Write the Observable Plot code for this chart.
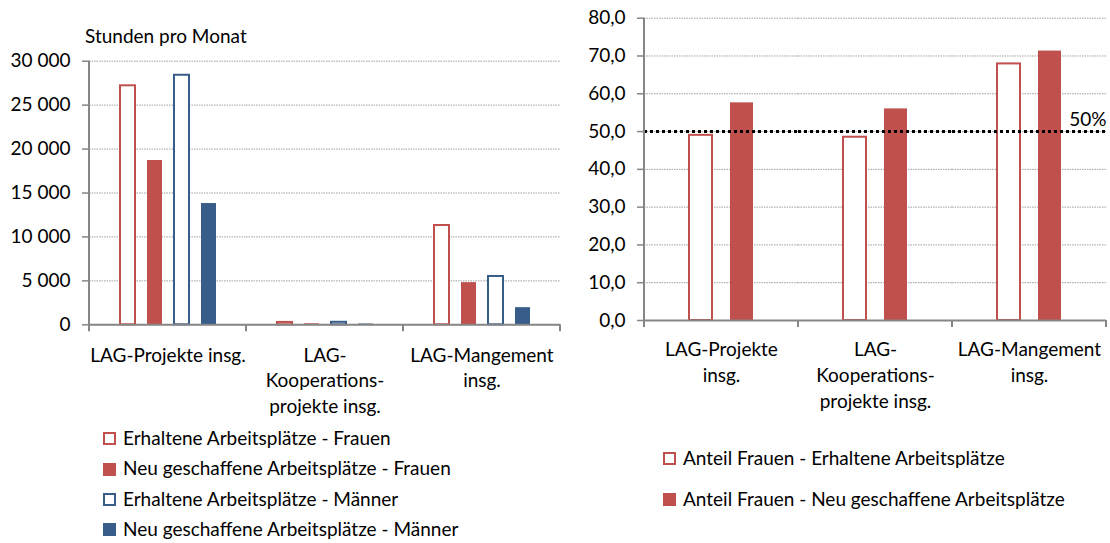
<!DOCTYPE html>
<html>
<head>
<meta charset="utf-8">
<script src="https://cdn.jsdelivr.net/npm/d3@7"></script>
<script src="https://cdn.jsdelivr.net/npm/@observablehq/plot@0.6"></script>
<style>
  html, body { margin: 0; padding: 0; background: #fff; }
  #page { position: relative; width: 1110px; height: 543px; overflow: hidden; font-family: Lato, sans-serif; color: #000; }
  #page svg { position: absolute; top: 0; max-width: none; background: transparent; }
  .title { position: absolute; font-size: 19px; line-height: 1; white-space: nowrap; }
  .swatch { position: absolute; width: 13px; height: 13px; box-sizing: border-box; }
  .ltext { position: absolute; font-size: 19px; line-height: 1; white-space: nowrap; }
</style>
</head>
<body>
<div id="page"></div>
<script>
// Categories and axis labels
const categories = ["LAG-Projekte insg.", "LAG-Kooperationsprojekte insg.", "LAG-Mangement insg."];
const hoursTickLabels = ["LAG-Projekte insg.", "LAG-\nKooperations-\nprojekte insg.", "LAG-Mangement\ninsg."];
const shareTickLabels = ["LAG-Projekte\ninsg.", "LAG-\nKooperations-\nprojekte insg.", "LAG-Mangement\ninsg."];

// Hours per month by job type and gender
const hoursSeries = [
  "Erhaltene Arbeitsplätze - Frauen",
  "Neu geschaffene Arbeitsplätze - Frauen",
  "Erhaltene Arbeitsplätze - Männer",
  "Neu geschaffene Arbeitsplätze - Männer"
];
const erhalteneFrauen = [27200, 270, 11300];
const neueFrauen = [18700, 115, 4800];
const erhalteneMaenner = [28400, 285, 5500];
const neueMaenner = [13800, 90, 1950];
const hoursTicks = [0, 5000, 10000, 15000, 20000, 25000, 30000];

// Share of women (%)
const shareSeries = [
  "Anteil Frauen - Erhaltene Arbeitsplätze",
  "Anteil Frauen - Neu geschaffene Arbeitsplätze"
];
const anteilErhalten = [49.0, 48.5, 67.9];
const anteilNeu = [57.6, 56.0, 71.3];
const shareTicks = [0, 10, 20, 30, 40, 50, 60, 70, 80];
const parityLine = [50];
const parityLabel = "50%";

// Styling
const RED = "#C0504D", BLUE = "#385D8A";
const hoursStyle = [
  {color: RED, hollow: true},
  {color: RED, hollow: false},
  {color: BLUE, hollow: true},
  {color: BLUE, hollow: false}
];
const shareStyle = [
  {color: RED, hollow: true},
  {color: RED, hollow: false}
];
const AXIS = "#868686", GRID = "#a0a0a0", FONT = 19;

const hoursValues = [erhalteneFrauen, neueFrauen, erhalteneMaenner, neueMaenner];
const shareValues = [anteilErhalten, anteilNeu];

function rowsFor(series, values, style) {
  return categories.flatMap((cat, i) => series.map((s, j) => ({
    cat, series: s, value: values[j][i], color: style[j].color, hollow: style[j].hollow
  })));
}

const fmtThousands = d => d3.format(",")(d).replace(/,/g, " ");
const fmtDecimal = d => d3.format(".1f")(d).replace(".", ",");

function barMarks(rows) {
  return [
    Plot.barY(rows.filter(d => !d.hollow), {fx: "cat", x: "series", y: "value", fill: "color"}),
    Plot.barY(rows.filter(d => d.hollow), {fx: "cat", x: "series", y: "value", fill: "white", stroke: "color", strokeWidth: 2})
  ];
}

// Frame decorations: y-axis line and category separator ticks, placed with the plot's scales
function decorate(plot) {
  const fx = plot.scale("fx"), y = plot.scale("y");
  const y0 = y.apply(0), yTop = y.apply(y.domain[1]);
  const edges = fx.domain.map(d => fx.apply(d));
  edges.push(fx.apply(fx.domain[fx.domain.length - 1]) + fx.bandwidth);
  const g = d3.select(plot).append("g").attr("stroke", AXIS).attr("stroke-width", 2);
  g.append("line").attr("x1", edges[0]).attr("x2", edges[0]).attr("y1", yTop).attr("y2", y0);
  g.selectAll(".sep").data(edges).join("line")
    .attr("x1", d => d).attr("x2", d => d).attr("y1", y0).attr("y2", y0 + 7);
  return plot;
}

const page = document.getElementById("page");

// Left chart: hours per month
const hoursPlot = decorate(Plot.plot({
  width: 562, height: 420,
  marginTop: 60.7, marginBottom: 95.7, marginLeft: 89, marginRight: 2,
  style: {fontFamily: "Lato, sans-serif", fontSize: FONT + "px", color: "#000", background: "transparent"},
  fx: {domain: categories, padding: 0, label: null},
  x: {domain: hoursSeries, paddingInner: 0.45, paddingOuter: 1.1, axis: null},
  y: {domain: [0, 30000], label: null},
  color: {type: "identity"},
  marks: [
    Plot.gridY(hoursTicks, {stroke: GRID, strokeOpacity: 1, strokeDasharray: "1.5,1"}),
    ...barMarks(rowsFor(hoursSeries, hoursValues, hoursStyle)),
    Plot.ruleY([0], {stroke: AXIS, strokeWidth: 2}),
    Plot.axisY(hoursTicks, {tickFormat: fmtThousands, tickSize: 7, tickPadding: 12, stroke: AXIS, strokeWidth: 1.5, fontSize: FONT, label: null}),
    Plot.axisFx({anchor: "bottom", tickSize: 0, tickPadding: 18.5, lineHeight: 1.35, fontSize: FONT, label: null,
      tickFormat: d => hoursTickLabels[categories.indexOf(d)]})
  ]
}));
hoursPlot.style.left = "0px";
page.appendChild(hoursPlot);

// Right chart: share of women
const sharePlot = decorate(Plot.plot({
  width: 548, height: 420,
  marginTop: 17.7, marginBottom: 100, marginLeft: 82, marginRight: 4,
  style: {fontFamily: "Lato, sans-serif", fontSize: FONT + "px", color: "#000", background: "transparent"},
  fx: {domain: categories, padding: 0, label: null},
  x: {domain: shareSeries, paddingInner: 0.45, paddingOuter: 1.1, axis: null},
  y: {domain: [0, 80], label: null},
  color: {type: "identity"},
  marks: [
    Plot.gridY(shareTicks, {stroke: GRID, strokeOpacity: 1, strokeDasharray: "1.5,1"}),
    ...barMarks(rowsFor(shareSeries, shareValues, shareStyle)),
    Plot.ruleY([0], {stroke: AXIS, strokeWidth: 2}),
    Plot.ruleY(parityLine, {stroke: "#000", strokeWidth: 3, strokeDasharray: "3,3"}),
    Plot.text(parityLine, {fx: () => categories[categories.length - 1], y: d => d, text: () => parityLabel,
      frameAnchor: "right", textAnchor: "end", dy: -12, fontSize: FONT, fill: "#000"}),
    Plot.axisY(shareTicks, {tickFormat: fmtDecimal, tickSize: 7, tickPadding: 12, stroke: AXIS, strokeWidth: 1.5, fontSize: FONT, label: null}),
    Plot.axisFx({anchor: "bottom", tickSize: 0, tickPadding: 17.5, lineHeight: 1.35, fontSize: FONT, label: null,
      tickFormat: d => shareTickLabels[categories.indexOf(d)]})
  ]
}));
sharePlot.style.left = "562px";
page.appendChild(sharePlot);

// Y-axis caption of the left chart
const title = document.createElement("div");
title.className = "title";
title.textContent = "Stunden pro Monat";
title.style.left = "85px";
title.style.top = "25.7px";
page.appendChild(title);

// Legends
function legend(series, style, x, y0, step) {
  series.forEach((s, i) => {
    const sw = document.createElement("div");
    sw.className = "swatch";
    sw.style.left = x + "px";
    sw.style.top = (y0 + i * step) + "px";
    if (style[i].hollow) { sw.style.border = "2px solid " + style[i].color; sw.style.background = "#fff"; }
    else sw.style.background = style[i].color;
    page.appendChild(sw);
    const t = document.createElement("div");
    t.className = "ltext";
    t.textContent = s;
    t.style.left = (x + 20) + "px";
    t.style.top = (y0 + i * step - 4.2) + "px";
    page.appendChild(t);
  });
}
legend(hoursSeries, hoursStyle, 103, 432.3, 30.2);
legend(shareSeries, shareStyle, 663, 451.8, 41);
</script>
</body>
</html>
